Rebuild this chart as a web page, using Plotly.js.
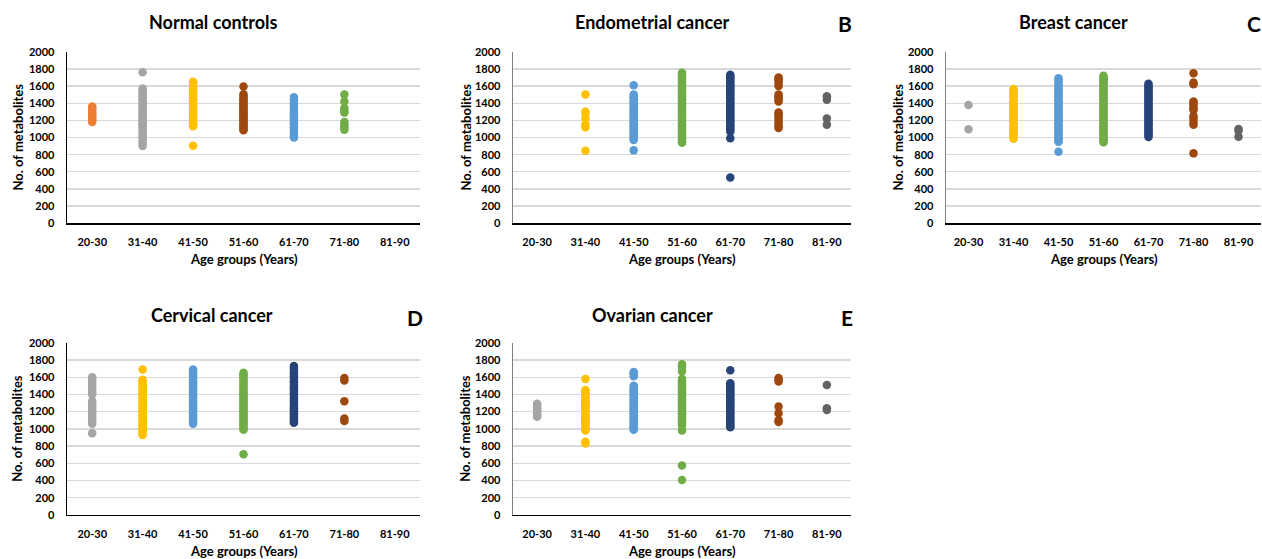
<!DOCTYPE html>
<html>
<head>
<meta charset="utf-8">
<script src="https://cdn.plot.ly/plotly-3.0.1.min.js"></script>
<style>html,body{margin:0;padding:0;background:#fff;}#chart{width:1262px;height:559px;}</style>
</head>
<body>
<div id="chart"></div>
<script>
// ---------- DATA ----------
const ageGroups = ['20-30','31-40','41-50','51-60','61-70','71-80','81-90'];
const panelTitles = ['Normal controls','Endometrial cancer','Breast cancer','Cervical cancer','Ovarian cancer'];
const panelLetters = ['', 'B', 'C', 'D', 'E'];
const yTitle = 'No. of metabolites';
const xTitle = 'Age groups (Years)';
const yTicks = [0,200,400,600,800,1000,1200,1400,1600,1800,2000];

const normalControls = [
  [1360,1340,1320,1300,1280,1260,1240,1220,1200,1180],
  [1760,1570,1550,1530,1500,1480,1460,1440,1410,1390,1370,1340,1320,1300,1280,1260,1240,1220,1200,1180,1160,1140,1120,1100,1070,1040,1010,990,960,930,900],
  [1650,1630,1610,1590,1570,1550,1530,1510,1490,1470,1450,1430,1410,1390,1370,1350,1330,1310,1290,1270,1250,1230,1210,1190,1170,1150,1130,905],
  [1595,1505,1485,1460,1440,1420,1400,1380,1360,1340,1320,1300,1280,1260,1240,1220,1200,1180,1160,1140,1120,1100,1085],
  [1470,1440,1400,1380,1340,1310,1290,1270,1250,1230,1210,1190,1170,1150,1120,1100,1070,1040,1010,1000],
  [1500,1420,1340,1310,1290,1180,1150,1120,1090],
  []
];
const endometrialCancer = [
  [],
  [1500,1300,1280,1220,1150,1120,845],
  [1610,1500,1480,1460,1440,1420,1400,1370,1350,1330,1310,1290,1270,1250,1230,1210,1190,1170,1150,1130,1110,1090,1070,1050,1030,1010,990,970,850],
  [1755,1735,1715,1695,1675,1655,1635,1615,1595,1575,1555,1535,1515,1495,1475,1455,1435,1415,1395,1375,1355,1335,1315,1295,1275,1255,1235,1215,1195,1175,1155,1135,1115,1095,1075,1055,1035,1015,995,975,955,940],
  [1730,1710,1690,1670,1650,1630,1610,1590,1570,1550,1530,1510,1490,1470,1450,1430,1410,1390,1370,1350,1330,1310,1290,1270,1250,1230,1210,1190,1170,1150,1130,1110,1090,1070,990,535],
  [1700,1680,1660,1630,1600,1500,1480,1460,1440,1420,1290,1270,1250,1220,1190,1160,1130,1110],
  [1480,1440,1220,1150]
];
const breastCancer = [
  [1380,1095],
  [1565,1545,1520,1500,1480,1460,1440,1420,1400,1380,1360,1340,1320,1300,1280,1260,1240,1220,1200,1180,1160,1140,1120,1100,1080,1060,1040,1020,1000,985],
  [1690,1670,1650,1620,1600,1580,1560,1540,1520,1500,1480,1460,1440,1420,1400,1380,1360,1340,1320,1300,1280,1260,1240,1220,1200,1180,1160,1140,1120,1100,1080,1060,1040,1020,1000,980,960,950,835],
  [1720,1700,1680,1660,1640,1620,1600,1580,1560,1540,1520,1500,1480,1460,1440,1420,1400,1380,1360,1340,1320,1300,1280,1260,1240,1220,1200,1180,1160,1140,1120,1100,1080,1060,1040,1020,1000,980,960,945],
  [1625,1605,1585,1565,1545,1525,1505,1485,1465,1445,1425,1405,1385,1365,1345,1325,1305,1285,1265,1245,1225,1205,1185,1165,1145,1125,1105,1085,1065,1045,1025,1005],
  [1750,1640,1620,1420,1400,1370,1340,1320,1250,1220,1180,1150,815],
  [1100,1080,1010]
];
const cervicalCancer = [
  [1600,1570,1540,1510,1480,1450,1420,1400,1320,1290,1260,1230,1200,1180,1150,1120,1090,1060,950],
  [1690,1570,1550,1530,1510,1490,1470,1450,1430,1410,1390,1370,1350,1330,1310,1290,1270,1250,1230,1210,1190,1170,1150,1130,1110,1090,1070,1050,1030,1010,990,970,950,930],
  [1690,1670,1650,1630,1610,1590,1570,1550,1530,1510,1490,1470,1450,1430,1410,1390,1370,1350,1330,1310,1290,1270,1250,1230,1210,1190,1170,1150,1130,1110,1090,1070,1060],
  [1650,1630,1610,1590,1560,1540,1510,1490,1470,1440,1420,1400,1380,1360,1340,1320,1300,1280,1260,1240,1220,1200,1180,1160,1140,1120,1100,1080,1060,1040,1020,1000,990,705],
  [1730,1710,1690,1660,1640,1610,1590,1560,1540,1510,1490,1470,1450,1420,1400,1370,1350,1320,1290,1260,1240,1220,1200,1180,1160,1140,1120,1100,1080,1070],
  [1590,1560,1320,1120,1090],
  []
];
const ovarianCancer = [
  [1290,1270,1250,1230,1210,1190,1170,1150,1140],
  [1580,1450,1430,1410,1390,1370,1350,1330,1310,1290,1270,1250,1230,1210,1190,1170,1150,1130,1110,1090,1070,1050,1030,1010,990,980,850,830],
  [1660,1640,1610,1500,1480,1460,1440,1420,1400,1380,1360,1340,1320,1300,1280,1260,1240,1220,1200,1180,1160,1140,1120,1100,1080,1060,1040,1020,1000,990],
  [1750,1720,1670,1580,1560,1540,1520,1500,1480,1460,1440,1420,1400,1380,1360,1340,1320,1300,1280,1260,1240,1220,1200,1180,1160,1140,1120,1100,1080,1060,1040,980,575,405],
  [1680,1530,1510,1490,1470,1450,1430,1410,1390,1370,1350,1330,1310,1290,1270,1250,1230,1210,1190,1170,1150,1130,1110,1090,1070,1050,1030,1020],
  [1590,1570,1550,1260,1180,1100,1080],
  [1510,1240,1220]
];

// ---------- STYLE / LAYOUT ----------
const W = 1262, H = 559;
const FONT = 'Lato, "Open Sans", sans-serif';
const COL = {orange:'#ED7D31', gray:'#A5A5A5', gold:'#FFC000', brown:'#9E480E', blue:'#5B9BD5', green:'#70AD47', navy:'#264478', dgray:'#636363'};
const colorsA = [COL.orange, COL.gray, COL.gold, COL.brown, COL.blue, COL.green, COL.dgray];
const colorsB = [COL.gray, COL.gold, COL.blue, COL.green, COL.navy, COL.brown, COL.dgray];

const panels = [
  {data: normalControls,    px:[67,420],  py:[51.7,223.3], colors: colorsA, yline:'#000',    ytx:17,  titleX:213,  titleY:22,  letterX:null},
  {data: endometrialCancer, px:[513,851], py:[51.7,223.3], colors: colorsB, yline:'#7f7f7f', ytx:465, titleX:652,  titleY:22,  letterX:845},
  {data: breastCancer,      px:[946,1261],py:[51.7,223.3], colors: colorsB, yline:'#7f7f7f', ytx:897, titleX:1073, titleY:22,  letterX:1254},
  {data: cervicalCancer,    px:[67,420],  py:[342.7,515],  colors: colorsB, yline:'#000',    ytx:17,  titleX:212,  titleY:315, letterX:415},
  {data: ovarianCancer,     px:[513,851], py:[342.7,515],  colors: colorsB, yline:'#7f7f7f', ytx:465, titleX:652,  titleY:315, letterX:847}
];

const traces = [];
const layout = {
  width: W, height: H,
  margin: {l:0, r:0, t:0, b:0},
  paper_bgcolor: '#fff', plot_bgcolor: '#fff',
  showlegend: false,
  font: {family: FONT, color: '#000'},
  annotations: []
};
const tickFont = {family: FONT, size: 11, color: '#000', weight: 700};

panels.forEach((p, i) => {
  const suf = i === 0 ? '' : String(i + 1);
  p.data.forEach((vals, g) => {
    if (!vals.length) return;
    traces.push({
      type: 'scatter', mode: 'markers',
      x: vals.map(() => g), y: vals,
      xaxis: 'x' + suf, yaxis: 'y' + suf,
      marker: {color: p.colors[g], size: 8.5, line: {width: 0}},
      hoverinfo: 'skip'
    });
  });
  layout['xaxis' + suf] = {
    domain: [p.px[0] / W, p.px[1] / W], anchor: 'y' + suf,
    range: [-0.5, 6.5], tickvals: ageGroups.map((_, k) => k), ticktext: ageGroups,
    showgrid: false, zeroline: false, showline: true, linecolor: '#000', linewidth: 1.3,
    ticks: '', ticklabelstandoff: 8, tickfont: tickFont, fixedrange: true
  };
  layout['yaxis' + suf] = {
    domain: [1 - p.py[1] / H, 1 - p.py[0] / H], anchor: 'x' + suf,
    range: [0, 2000], tickvals: yTicks,
    showgrid: true, gridcolor: '#d9d9d9', gridwidth: 1.3,
    zeroline: false, showline: true, linecolor: p.yline, linewidth: 1.3,
    ticks: '', ticklabelstandoff: 9, tickfont: tickFont, fixedrange: true
  };
  const cx = (p.px[0] + p.px[1]) / 2;
  const cy = (p.py[0] + p.py[1]) / 2;
  layout.annotations.push({
    xref: 'paper', yref: 'paper', x: p.titleX / W, y: 1 - p.titleY / H,
    xanchor: 'center', yanchor: 'middle', showarrow: false,
    text: panelTitles[i], font: {family: FONT, size: 18, color: '#000', weight: 700}
  });
  if (panelLetters[i]) {
    layout.annotations.push({
      xref: 'paper', yref: 'paper', x: p.letterX / W, y: 1 - (p.titleY + 2) / H,
      xanchor: 'center', yanchor: 'middle', showarrow: false,
      text: panelLetters[i], font: {family: FONT, size: 21, color: '#000', weight: 700}
    });
  }
  layout.annotations.push({
    xref: 'paper', yref: 'paper', x: p.ytx / W, y: 1 - cy / H,
    xanchor: 'center', yanchor: 'middle', showarrow: false, textangle: -90,
    text: yTitle, font: {family: FONT, size: 13, color: '#000', weight: 700}
  });
  layout.annotations.push({
    xref: 'paper', yref: 'paper', x: cx / W, y: 1 - (p.py[1] + 36) / H,
    xanchor: 'center', yanchor: 'middle', showarrow: false,
    text: xTitle, font: {family: FONT, size: 13, color: '#000', weight: 700}
  });
});

Plotly.newPlot('chart', traces, layout, {staticPlot: true, displayModeBar: false});
</script>
</body>
</html>
